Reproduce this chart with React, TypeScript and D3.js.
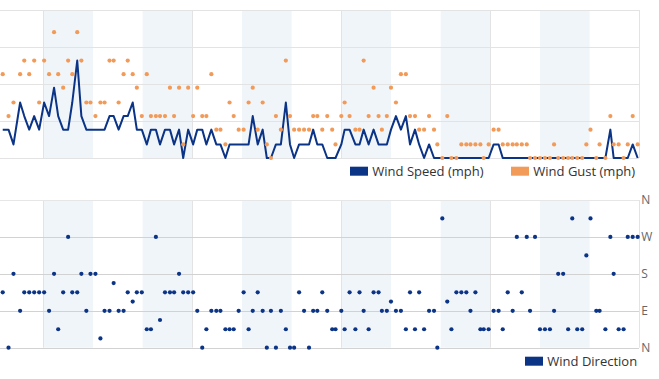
import React from 'react';
import * as d3 from 'd3';

// Sample times, minutes after midnight (negative = previous evening)
const sampleMinutes = [
  -49, -42, -36, -28, -23, -17, -11, -5, 1, 7,
  13, 18, 24, 30, 35, 41, 46, 52, 57, 63,
  69, 74, 80, 85, 91, 97, 102, 108, 113, 119,
  125, 130, 136, 141, 147, 153, 158, 164, 169, 175,
  181, 186, 192, 197, 203, 209, 214, 220, 225, 230,
  236, 242, 248, 253, 259, 265, 270, 275, 281, 287,
  293, 298, 303, 309, 315, 321, 326, 331, 337, 343,
  349, 353, 360, 364, 370, 377, 382, 387, 393, 399,
  405, 409, 415, 420, 426, 432, 438, 443, 449, 454,
  460, 466, 472, 476, 482, 488, 493, 499, 505, 511,
  516, 522, 528, 532, 538, 544, 550, 555, 561, 567,
  572, 578, 584, 588, 594, 600, 606, 612, 617, 622,
  628, 634, 639, 645, 651, 656, 661, 668, 672, 679,
  685, 689, 695, 701, 706, 712, 718,
];

// Wind speed (mph)
const windSpeed = [
  2.3, 2.3, 1.1, 4.5, 3.4, 2.3, 3.4, 2.3, 4.5, 3.4,
  5.7, 3.4, 2.3, 2.3, 4.5, 7.9, 3.4, 2.3, 2.3, 2.3,
  2.3, 2.3, 3.4, 3.4, 2.3, 3.4, 3.4, 4.5, 2.3, 2.3,
  1.1, 2.3, 2.3, 1.1, 2.3, 2.3, 1.1, 2.3, 0, 2.3,
  1.1, 2.3, 2.3, 1.1, 2.3, 1.1, 1.1, 0, 1.1, 1.1,
  1.1, 1.1, 1.1, 3.4, 1.1, 2.3, 0, 0, 1.1, 1.1,
  4.5, 1.1, 0, 1.1, 1.1, 1.1, 2.3, 1.1, 1.1, 0,
  0, 0, 1.1, 2.3, 2.3, 1.1, 1.1, 2.3, 1.1, 2.3,
  1.1, 1.1, 1.1, 2.3, 3.4, 2.3, 3.4, 1.1, 2.3, 1.1,
  0, 1.1, 0, 0, 0, 0, 0, 0, 0, 0,
  0, 0, 0, 0, 0, 1.1, 1.1, 0, 0, 0,
  0, 0, 0, 0, 0, 0, 0, 0, 0, 0,
  0, 0, 0, 0, 0, 0, 0, 0, 0, 0,
  2.3, 0, 0, 0, 0, 1.1, 0,
];

// Wind gust (mph)
const windGust = [
  6.8, 3.4, 4.5, 6.8, 7.9, 6.8, 7.9, 4.5, 7.9, 6.8,
  10.2, 6.8, 5.7, 7.9, 6.8, 10.2, 7.9, 4.5, 4.5, 3.4,
  4.5, 4.5, 7.9, 7.9, 4.5, 6.8, 7.9, 6.8, 5.7, 3.4,
  6.8, 3.4, 3.4, 3.4, 3.4, 5.7, 3.4, 5.7, 1.1, 5.7,
  3.4, 5.7, 3.4, 3.4, 6.8, 2.3, 2.3, 1.1, 4.5, 3.4,
  2.3, 2.3, 4.5, 5.7, 2.3, 4.5, 1.1, 0, 3.4, 2.3,
  7.9, 3.4, 2.3, 2.3, 2.3, 2.3, 3.4, 3.4, 2.3, 3.4,
  2.3, 1.1, 3.4, 4.5, 3.4, 2.3, 2.3, 7.9, 3.4, 5.7,
  3.4, 2.3, 3.4, 5.7, 4.5, 6.8, 6.8, 3.4, 3.4, 2.3,
  2.3, 3.4, 2.3, 1.1, 0, 3.4, 0, 0, 1.1, 1.1,
  1.1, 1.1, 1.1, 0, 1.1, 2.3, 2.3, 1.1, 1.1, 1.1,
  1.1, 1.1, 1.1, 0, 0, 0, 0, 0, 1.1, 0,
  0, 0, 0, 0, 0, 1.1, 2.3, 0, 1.1, 0,
  3.4, 1.1, 1.1, 0, 1.1, 3.4, 1.1,
];

// Wind direction (degrees)
const windDirection = [
  135, 0, 180, 90, 135, 135, 135, 135, 135, 90,
  180, 45, 135, 270, 135, 135, 180, 90, 180, 180,
  22.5, 90, 90, 157.5, 90, 90, 135, 112.5, 135, 135,
  45, 45, 270, 67.5, 135, 135, 135, 180, 135, 135,
  135, 90, 0, 45, 90, 90, 90, 45, 45, 45,
  90, 135, 45, 90, 135, 90, 0, 90, 0, 90,
  45, 0, 0, 135, 90, 0, 90, 90, 135, 90,
  45, 45, 90, 45, 135, 45, 135, 90, 45, 135,
  135, 90, 90, 112.5, 90, 90, 45, 135, 45, 135,
  45, 90, 90, 0, 315, 112.5, 45, 135, 135, 135,
  90, 135, 45, 45, 45, 90, 90, 45, 135, 90,
  270, 135, 270, 90, 270, 45, 45, 45, 90, 180,
  180, 45, 315, 45, 45, 225, 315, 90, 90, 45,
  270, 180, 45, 45, 270, 270, 270,
];

const speedTicks = [0, 3, 6, 9, 12];
const directionTicks = [0, 90, 180, 270, 360];
const directionLabels = ['N', 'E', 'S', 'W', 'N'];
const gridHours = [0, 3, 6, 9];
const shadedHours = [0, 2, 4, 6, 8, 10];

const NAVY = '#0b3486';
const ORANGE = '#f29a58';
const BAND = '#f0f5fa';
const FONT = "'Open Sans', 'Noto Sans', sans-serif";

export default function App() {
  const W = 659;
  const H = 379;
  const plotLeft = 0;
  const plotRight = 639;
  const top1 = 10;
  const bot1 = 158;
  const top2 = 200;
  const bot2 = 347.7;

  const x = d3.scaleLinear().domain([-52.3, 719.6]).range([plotLeft, plotRight]);
  const yS = d3.scaleLinear().domain([0, 12]).range([bot1, top1]);
  const yD = d3.scaleLinear().domain([0, 360]).range([bot2, top2]);

  const speedLine = d3
    .line<number>()
    .x((_, i) => x(sampleMinutes[i]))
    .y((d) => yS(d))(windSpeed);

  const bands = (t: number, b: number) =>
    shadedHours.map((h) => (
      <rect
        key={`b${t}-${h}`}
        x={x(h * 60)}
        y={t}
        width={Math.min(x((h + 1) * 60), plotRight) - x(h * 60)}
        height={b - t}
        fill={BAND}
      />
    ));

  const vgrid = (t: number, b: number) =>
    gridHours.map((h) => (
      <line
        key={`v${t}-${h}`}
        x1={Math.round(x(h * 60)) + 0.5}
        x2={Math.round(x(h * 60)) + 0.5}
        y1={t}
        y2={b}
        stroke="#e3e3e3"
        strokeWidth={1}
      />
    ));

  return (
    <svg
      width={W}
      height={H}
      style={{ position: 'absolute', left: 0, top: 0, background: '#fff' }}
      fontFamily={FONT}
    >
      {/* Top panel */}
      {bands(top1, bot1)}
      {vgrid(top1, bot1)}
      {speedTicks.map((t) => (
        <line
          key={`hs${t}`}
          x1={plotLeft}
          x2={plotRight}
          y1={Math.round(yS(t)) + 0.5}
          y2={Math.round(yS(t)) + 0.5}
          stroke="#e3e3e3"
          strokeWidth={1}
        />
      ))}
      <line x1={plotRight + 0.5} x2={plotRight + 0.5} y1={top1} y2={bot1} stroke="#e3e3e3" />
      <path d={speedLine ?? ''} fill="none" stroke={NAVY} strokeWidth={2} strokeLinejoin="round" />
      {windGust.map((g, i) => (
        <circle key={`g${i}`} cx={x(sampleMinutes[i])} cy={yS(g)} r={2.1} fill={ORANGE} />
      ))}

      {/* Top legend */}
      <rect x={350} y={166.7} width={18} height={9} fill={NAVY} />
      <text x={372.3} y={175.7} fontSize={13} fill="#333">
        Wind Speed (mph)
      </text>
      <rect x={511} y={166.7} width={18} height={9} fill={ORANGE} />
      <text x={533.3} y={175.7} fontSize={13} fill="#333">
        Wind Gust (mph)
      </text>

      {/* Bottom panel */}
      {bands(top2, bot2)}
      {vgrid(top2, bot2)}
      {directionTicks.map((t, k) => (
        <line
          key={`hd${t}`}
          x1={plotLeft}
          x2={plotRight}
          y1={Math.round(yD(t)) + 0.5}
          y2={Math.round(yD(t)) + 0.5}
          stroke={k === directionTicks.length - 1 ? '#e6e6e6' : '#d2d2d2'}
          strokeWidth={1}
        />
      ))}
      <line x1={plotRight + 0.5} x2={plotRight + 0.5} y1={top2} y2={bot2} stroke="#e3e3e3" />
      {directionTicks.map((t, k) => (
        <text
          key={`ld${t}`}
          x={641.3}
          y={yD(t)}
          dy="0.36em"
          fontSize={12}
          fill="#666"
        >
          {directionLabels[k]}
        </text>
      ))}
      {windDirection.map((d, i) => (
        <circle key={`d${i}`} cx={x(sampleMinutes[i])} cy={yD(d)} r={2.1} fill={NAVY} />
      ))}

      {/* Bottom legend */}
      <rect x={525} y={356.7} width={18} height={9} fill={NAVY} />
      <text x={547.3} y={365.7} fontSize={13} fill="#333">
        Wind Direction
      </text>
    </svg>
  );
}
